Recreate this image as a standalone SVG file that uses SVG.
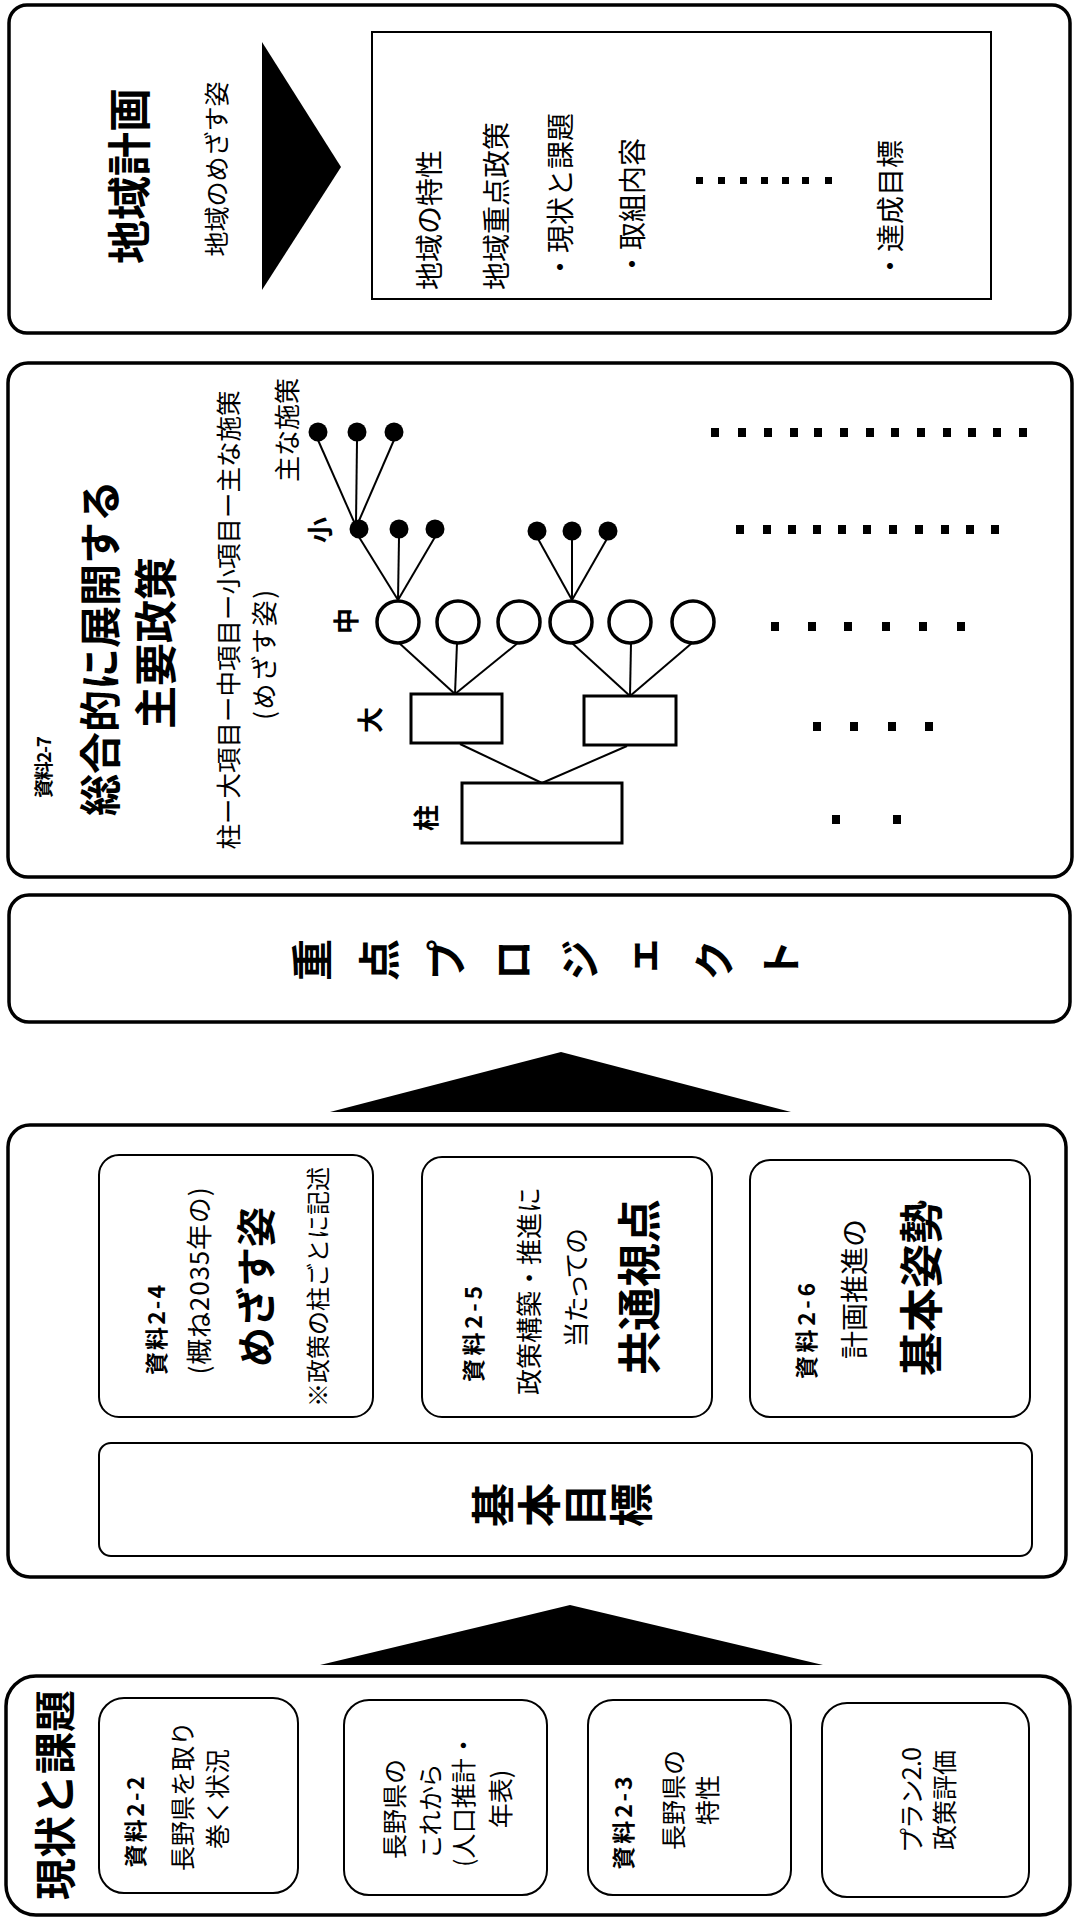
<svg xmlns="http://www.w3.org/2000/svg" width="1079" height="1922" viewBox="0 0 1079 1922">
<style>
.frame{fill:#fff;stroke:#000;stroke-width:3.5}
.ibox{fill:#fff;stroke:#000;stroke-width:2}
.tbox{fill:#fff;stroke:#000;stroke-width:3}
.circ{fill:#fff;stroke:#000;stroke-width:3.5}
.dot{fill:#000}
.tri{fill:#000}
.ln{stroke:#000;stroke-width:2;fill:none}
.dash{fill:#000}
text{font-family:"Noto Sans CJK JP","Noto Sans",sans-serif;fill:#000;text-anchor:middle;dominant-baseline:central}
.b{font-weight:bold}
.st{text-anchor:start}
.v{writing-mode:vertical-rl;dominant-baseline:auto}
.p{font-feature-settings:"palt"}
</style>
<rect x="0" y="0" width="1079" height="1922" fill="#fff"/>

<!-- 地域計画 -->
<g id="chiiki-keikaku">
<rect class="frame" x="9" y="5" width="1061" height="328" rx="18"/>
<polygon class="tri" points="262,42 262,290 341,167"/>
<rect class="ibox" x="372" y="32" width="619" height="267"/>
<text class="b" font-size="44" x="127" y="176" transform="rotate(-90 127 176)">地域計画</text>
<text font-size="25" x="215" y="169" transform="rotate(-90 215 169)">地域のめざす姿</text>
<text class="st" font-size="28" x="428" y="290" transform="rotate(-90 428 290)">地域の特性</text>
<text class="st" font-size="28" x="495" y="290" transform="rotate(-90 495 290)">地域重点政策</text>
<text class="st" font-size="28" x="559" y="281" transform="rotate(-90 559 281)">・現状と課題</text>
<text class="st" font-size="28" x="631" y="278" transform="rotate(-90 631 278)">・取組内容</text>
<text class="st" font-size="28" x="889" y="280" transform="rotate(-90 889 280)">・達成目標</text>
<g class="dash">
<rect x="696" y="177" width="7" height="7"/><rect x="718" y="177" width="7" height="7"/><rect x="740" y="177" width="7" height="7"/><rect x="761" y="177" width="7" height="7"/><rect x="782" y="177" width="7" height="7"/><rect x="802" y="177" width="7" height="7"/><rect x="825" y="177" width="7" height="7"/>
</g>
</g>

<!-- 主要政策 -->
<g id="shuyo-seisaku">
<rect class="frame" x="8" y="363" width="1064" height="514" rx="20"/>
<text class="b" font-size="19" textLength="62" lengthAdjust="spacing" x="42" y="767" transform="rotate(-90 42 767)">資料2-7</text>
<text class="b" font-size="42" x="97" y="648" transform="rotate(-90 97 648)">総合的に展開する</text>
<text class="b" font-size="43" x="153" y="643" transform="rotate(-90 153 643)">主要政策</text>
<text font-size="25.5" x="226" y="620" transform="rotate(-90 226 620)">柱ー大項目ー中項目ー小項目ー主な施策</text>
<text font-size="26" textLength="130" lengthAdjust="spacing" x="262" y="655" transform="rotate(-90 262 655)">(めざす姿)</text>
<text font-size="26" x="285" y="430" transform="rotate(-90 285 430)">主な施策</text>
<text class="b" font-size="26" x="318" y="530" transform="rotate(-90 318 530)">小</text>
<text class="b" font-size="26" x="344" y="621" transform="rotate(-90 344 621)">中</text>
<text class="b" font-size="26" x="368" y="720" transform="rotate(-90 368 720)">大</text>
<text class="b" font-size="26" x="424" y="818" transform="rotate(-90 424 818)">柱</text>
</g>

<g id="connectors">
<line class="ln" x1="318" y1="440" x2="355" y2="524"/>
<line class="ln" x1="357" y1="441" x2="356" y2="523"/>
<line class="ln" x1="394" y1="440" x2="358" y2="523"/>
<line class="ln" x1="359" y1="537" x2="398" y2="600"/>
<line class="ln" x1="399" y1="538" x2="398" y2="600"/>
<line class="ln" x1="435" y1="537" x2="398" y2="600"/>
<line class="ln" x1="537" y1="537" x2="572" y2="600"/>
<line class="ln" x1="572" y1="538" x2="572" y2="600"/>
<line class="ln" x1="608" y1="537" x2="572" y2="600"/>
<line class="ln" x1="398" y1="642" x2="455" y2="694"/>
<line class="ln" x1="457" y1="643" x2="455" y2="694"/>
<line class="ln" x1="519" y1="642" x2="455" y2="694"/>
<line class="ln" x1="572" y1="643" x2="630" y2="696"/>
<line class="ln" x1="631" y1="643" x2="630" y2="696"/>
<line class="ln" x1="692" y1="643" x2="630" y2="696"/>
<line class="ln" x1="460" y1="744" x2="542" y2="783"/>
<line class="ln" x1="627" y1="746" x2="542" y2="783"/>
</g>

<g id="tree-nodes">
<circle class="dot" cx="318" cy="432" r="9.5"/><circle class="dot" cx="357" cy="432" r="9.5"/><circle class="dot" cx="394" cy="432" r="9.5"/>
<circle class="dot" cx="359" cy="529" r="9.5"/><circle class="dot" cx="399" cy="529" r="9.5"/><circle class="dot" cx="435" cy="529" r="9.5"/>
<circle class="dot" cx="537" cy="531" r="9.5"/><circle class="dot" cx="572" cy="531" r="9.5"/><circle class="dot" cx="608" cy="531" r="9.5"/>
<ellipse class="circ" cx="398" cy="622" rx="21" ry="21"/><ellipse class="circ" cx="458" cy="622" rx="21" ry="21"/><ellipse class="circ" cx="519" cy="622" rx="21" ry="21"/>
<ellipse class="circ" cx="571" cy="622" rx="21" ry="21"/><ellipse class="circ" cx="630" cy="622" rx="21" ry="21"/><ellipse class="circ" cx="693" cy="622" rx="21" ry="21"/>
<rect class="tbox" x="411" y="694" width="91" height="49"/>
<rect class="tbox" x="584" y="696" width="92" height="49"/>
<rect class="tbox" x="462" y="783" width="160" height="60"/>
</g>

<g id="dash-rows" class="dash">
<rect x="711" y="428" width="8" height="9"/><rect x="738" y="428" width="8" height="9"/><rect x="764" y="428" width="8" height="9"/><rect x="790" y="428" width="8" height="9"/><rect x="814" y="428" width="8" height="9"/><rect x="840" y="428" width="8" height="9"/><rect x="866" y="428" width="8" height="9"/><rect x="891" y="428" width="8" height="9"/><rect x="917" y="428" width="8" height="9"/><rect x="943" y="428" width="8" height="9"/><rect x="968" y="428" width="8" height="9"/><rect x="993" y="428" width="8" height="9"/><rect x="1019" y="428" width="8" height="9"/>
<rect x="736" y="525" width="8" height="9"/><rect x="763" y="525" width="8" height="9"/><rect x="788" y="525" width="8" height="9"/><rect x="813" y="525" width="8" height="9"/><rect x="838" y="525" width="8" height="9"/><rect x="863" y="525" width="8" height="9"/><rect x="889" y="525" width="8" height="9"/><rect x="915" y="525" width="8" height="9"/><rect x="941" y="525" width="8" height="9"/><rect x="966" y="525" width="8" height="9"/><rect x="991" y="525" width="8" height="9"/>
<rect x="771" y="622" width="8" height="9"/><rect x="808" y="622" width="8" height="9"/><rect x="844" y="622" width="8" height="9"/><rect x="882" y="622" width="8" height="9"/><rect x="919" y="622" width="8" height="9"/><rect x="957" y="622" width="8" height="9"/>
<rect x="813" y="722" width="8" height="9"/><rect x="850" y="722" width="8" height="9"/><rect x="888" y="722" width="8" height="9"/><rect x="925" y="722" width="8" height="9"/>
<rect x="832" y="815" width="8" height="9"/><rect x="893" y="815" width="8" height="9"/>
</g>

<!-- 重点プロジェクト -->
<g id="juten-project">
<rect class="frame" x="9" y="895" width="1061" height="127" rx="20"/>
<text class="b v" font-size="42" letter-spacing="25" x="559" y="960" transform="rotate(-90 559 960)">重点プロジェクト</text>
</g>
<polygon id="arrow-upper" class="tri" points="330,1112 791,1112 561,1052"/>

<!-- 基本目標 -->
<g id="kihon-mokuhyo">
<rect class="frame" x="8" y="1125" width="1058" height="452" rx="22"/>
<g id="box-2-4">
<rect class="ibox" x="99" y="1155" width="274" height="262" rx="20"/>
<text class="b" font-size="23" textLength="90" lengthAdjust="spacing" x="155" y="1330" transform="rotate(-90 155 1330)">資料2-4</text>
<text font-size="26" textLength="187" lengthAdjust="spacing" x="197" y="1281" transform="rotate(-90 197 1281)">(概ね2035年の)</text>
<text class="b" font-size="40" x="254" y="1287" transform="rotate(-90 254 1287)">めざす姿</text>
<text font-size="24" x="316" y="1287" transform="rotate(-90 316 1287)">※政策の柱ごとに記述</text>
</g>
<g id="box-2-5">
<rect class="ibox" x="422" y="1157" width="290" height="260" rx="20"/>
<text class="b" font-size="23" textLength="96" lengthAdjust="spacing" x="472" y="1334" transform="rotate(-90 472 1334)">資料2-5</text>
<text font-size="26" x="527" y="1291" transform="rotate(-90 527 1291)">政策構築・推進に</text>
<text class="p" font-size="26" x="574" y="1288" transform="rotate(-90 574 1288)">当たっての</text>
<text class="b" font-size="44" x="637" y="1287" transform="rotate(-90 637 1287)">共通視点</text>
</g>
<g id="box-2-6">
<rect class="ibox" x="750" y="1160" width="280" height="257" rx="20"/>
<text class="b" font-size="23" textLength="96" lengthAdjust="spacing" x="805" y="1331" transform="rotate(-90 805 1331)">資料2-6</text>
<text font-size="28" x="853" y="1289" transform="rotate(-90 853 1289)">計画推進の</text>
<text class="b" font-size="44" x="919" y="1288" transform="rotate(-90 919 1288)">基本姿勢</text>
</g>
<g id="box-kihon">
<rect class="ibox" x="99" y="1443" width="933" height="113" rx="12"/>
<text class="b v" font-size="44" letter-spacing="2" x="563" y="1505" transform="rotate(-90 563 1505)">基本目標</text>
</g>
</g>
<polygon id="arrow-lower" class="tri" points="320,1665 823,1665 570,1605"/>

<!-- 現状と課題 -->
<g id="genjo-kadai">
<rect class="frame" x="6" y="1676" width="1064" height="239" rx="30"/>
<text class="b" font-size="42" x="52" y="1795" transform="rotate(-90 52 1795)">現状と課題</text>
<g id="box-2-2">
<rect class="ibox" x="99" y="1698" width="199" height="195" rx="25"/>
<text class="b" font-size="23" textLength="91" lengthAdjust="spacing" x="134" y="1822" transform="rotate(-90 134 1822)">資料2-2</text>
<text font-size="25" x="181" y="1796" transform="rotate(-90 181 1796)">長野県を取り</text>
<text font-size="25" x="216" y="1799" transform="rotate(-90 216 1799)">巻く状況</text>
</g>
<g id="box-korekara">
<rect class="ibox" x="344" y="1700" width="203" height="195" rx="25"/>
<text font-size="25" x="393" y="1809" transform="rotate(-90 393 1809)">長野県の</text>
<text class="p" font-size="25" x="429" y="1811" transform="rotate(-90 429 1811)">これから</text>
<text font-size="25" textLength="134" lengthAdjust="spacing" x="462" y="1800" transform="rotate(-90 462 1800)">(人口推計・</text>
<text font-size="25" x="499" y="1799" transform="rotate(-90 499 1799)">年表)</text>
</g>
<g id="box-2-3">
<rect class="ibox" x="588" y="1700" width="203" height="195" rx="25"/>
<text class="b" font-size="23" textLength="93" lengthAdjust="spacing" x="622" y="1823" transform="rotate(-90 622 1823)">資料2-3</text>
<text font-size="25" x="672" y="1800" transform="rotate(-90 672 1800)">長野県の</text>
<text font-size="25" x="706" y="1800" transform="rotate(-90 706 1800)">特性</text>
</g>
<g id="box-plan">
<rect class="ibox" x="822" y="1703" width="207" height="194" rx="25"/>
<text font-size="25" textLength="106" lengthAdjust="spacing" x="910" y="1800" transform="rotate(-90 910 1800)">プラン2.0</text>
<text font-size="25" x="943" y="1800" transform="rotate(-90 943 1800)">政策評価</text>
</g>
</g>
</svg>
